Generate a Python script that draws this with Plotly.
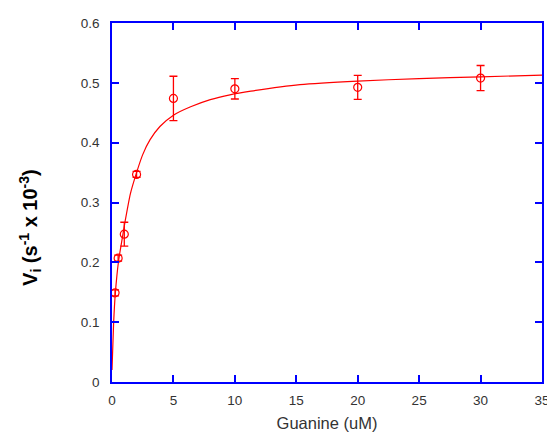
import plotly.graph_objects as go

# Measured data
conc = [0.25, 0.5, 1, 2, 5, 10, 20, 30]
vi = [0.149, 0.207, 0.247, 0.347, 0.474, 0.490, 0.4925, 0.508]
err = [0.005, 0.005, 0.02, 0.005, 0.037, 0.017, 0.02, 0.021]

# Fitted curve
fit_x = [0, 0.13, 0.27, 0.54, 0.81, 1.08, 1.5, 2.0, 2.5, 3.1, 3.9, 5, 6.4, 8, 9.6, 11.3, 15.3, 20, 25, 30, 35]
fit_y = [0.02, 0.098, 0.148, 0.203, 0.237, 0.27, 0.315, 0.35, 0.38, 0.405, 0.427, 0.446, 0.460, 0.472, 0.480,
         0.486, 0.497, 0.503, 0.507, 0.510, 0.513]

x_ticks = [0, 5, 10, 15, 20, 25, 30, 35]
y_ticks = [0, 0.1, 0.2, 0.3, 0.4, 0.5, 0.6]

RED = "#FF0000"
BLUE = "#0000FF"

fig = go.Figure()
fig.add_trace(go.Scatter(x=fit_x, y=fit_y, mode="lines", line=dict(color=RED, width=1.2, shape="spline", smoothing=0.6),
                         showlegend=False, hoverinfo="skip"))
fig.add_trace(go.Scatter(x=conc, y=vi, mode="markers",
                         marker=dict(symbol="circle-open", size=8, color=RED, line=dict(width=1.2, color=RED)),
                         error_y=dict(type="data", array=err, color=RED, thickness=1.3, width=4),
                         showlegend=False))

axis_common = dict(showline=True, linecolor=BLUE, linewidth=1.5, mirror="ticks", ticks="inside", ticklen=7,
                   tickcolor=BLUE, tickwidth=1.5, showgrid=False, zeroline=False, automargin=False,
                   tickfont=dict(family="Liberation Sans, Arial", size=13.5, color="#333333"))

fig.update_layout(
    width=555, height=436,
    margin=dict(l=104, r=21, t=15, b=62),
    paper_bgcolor="white", plot_bgcolor="white",
    xaxis=dict(range=[0, 35], tickvals=x_ticks, ticklabelstandoff=5,
               title=dict(text="Guanine (uM)", font=dict(family="Liberation Sans, Arial", size=16.5, color="#333333"),
                          standoff=10),
               **axis_common),
    yaxis=dict(range=[0, 0.6], tickvals=y_ticks, ticklabelstandoff=8, **axis_common),
    annotations=[dict(text="<b>V<sub>i</sub> (s<sup>-1</sup> x 10<sup>-3</sup>)</b>", textangle=-90,
                      xref="paper", yref="paper", x=-0.19, y=0.43, xanchor="center", yanchor="middle",
                      showarrow=False, font=dict(family="Liberation Sans, Arial", size=20, color="black"))],
)

fig.write_html("out.html")
